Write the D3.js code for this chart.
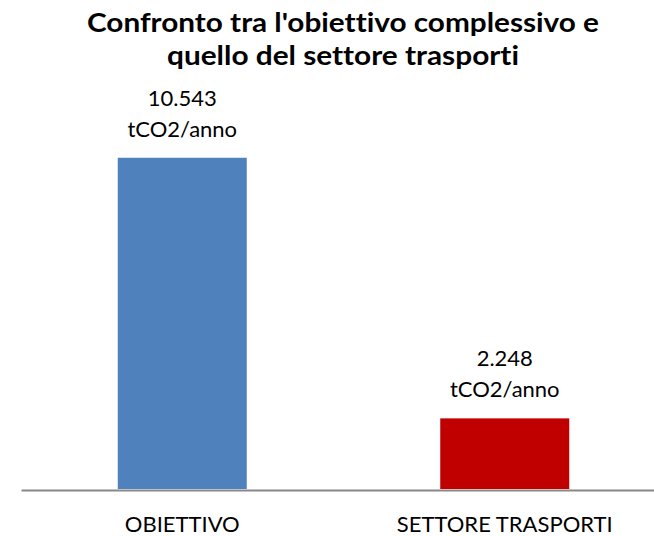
<!DOCTYPE html>
<html>
<head>
<meta charset="utf-8">
<script src="https://cdn.jsdelivr.net/npm/d3@7"></script>
<style>
  body { margin: 0; background: #fff; }
  svg { display: block; font-family: Lato, 'Open Sans', sans-serif; font-variant-ligatures: none; }
</style>
</head>
<body>
<script>
const categories = ['OBIETTIVO', 'SETTORE TRASPORTI'];
const values = [10543, 2248];
const valueLabels = ['10.543', '2.248'];
const unitLabel = 'tCO2/anno';
const colors = ['#4F81BD', '#C00000'];
const titleLines = ["Confronto tra l'obiettivo complessivo e", 'quello del settore trasporti'];

const width = 654, height = 536;
const margin = { top: 112, left: 21, right: -12, bottom: 47 };

const svg = d3.select('body').append('svg')
  .attr('width', width)
  .attr('height', height);

// scales
const x = d3.scaleBand()
  .domain(categories)
  .range([margin.left, width - margin.right])
  .paddingInner(0.6)
  .paddingOuter(0.3);

const y = d3.scaleLinear()
  .domain([0, 12000])
  .range([height - margin.bottom, margin.top]);

// title (stretched to the original's line widths)
const titleWidths = [512, 352];
svg.append('g')
  .selectAll('text')
  .data(titleLines)
  .join('text')
  .attr('x', 343)
  .attr('y', (d, i) => 32 + i * 33)
  .attr('text-anchor', 'middle')
  .attr('font-size', 26.5)
  .attr('font-weight', 'bold')
  .attr('fill', '#000')
  .attr('textLength', (d, i) => titleWidths[i])
  .attr('lengthAdjust', 'spacingAndGlyphs')
  .text(d => d);

// bars
svg.append('g')
  .selectAll('rect')
  .data(values)
  .join('rect')
  .attr('x', (d, i) => x(categories[i]))
  .attr('y', d => y(d))
  .attr('width', x.bandwidth())
  .attr('height', d => y(0) - y(d))
  .attr('fill', (d, i) => colors[i]);

// data labels
const labels = svg.append('g')
  .selectAll('g')
  .data(values)
  .join('g')
  .attr('transform', (d, i) => `translate(${x(categories[i]) + x.bandwidth() / 2}, ${y(d)})`)
  .attr('font-size', 22)
  .attr('fill', '#000')
  .attr('text-anchor', 'middle');

labels.append('text').attr('y', -52).text((d, i) => valueLabels[i]);
labels.append('text').attr('y', -21).text(unitLabel);

// bottom axis
const axis = d3.axisBottom(x).tickSize(0).tickPadding(0);
const axisGroup = svg.append('g')
  .attr('transform', `translate(0, ${y(0) + 1})`)
  .call(axis);

axisGroup.select('.domain')
  .attr('stroke', '#888')
  .attr('stroke-width', 2);

axisGroup.selectAll('.tick text')
  .attr('y', 42)
  .attr('dy', 0)
  .attr('font-size', 22)
  .attr('font-family', "Lato, 'Open Sans', sans-serif")
  .attr('fill', '#000');
</script>
</body>
</html>
